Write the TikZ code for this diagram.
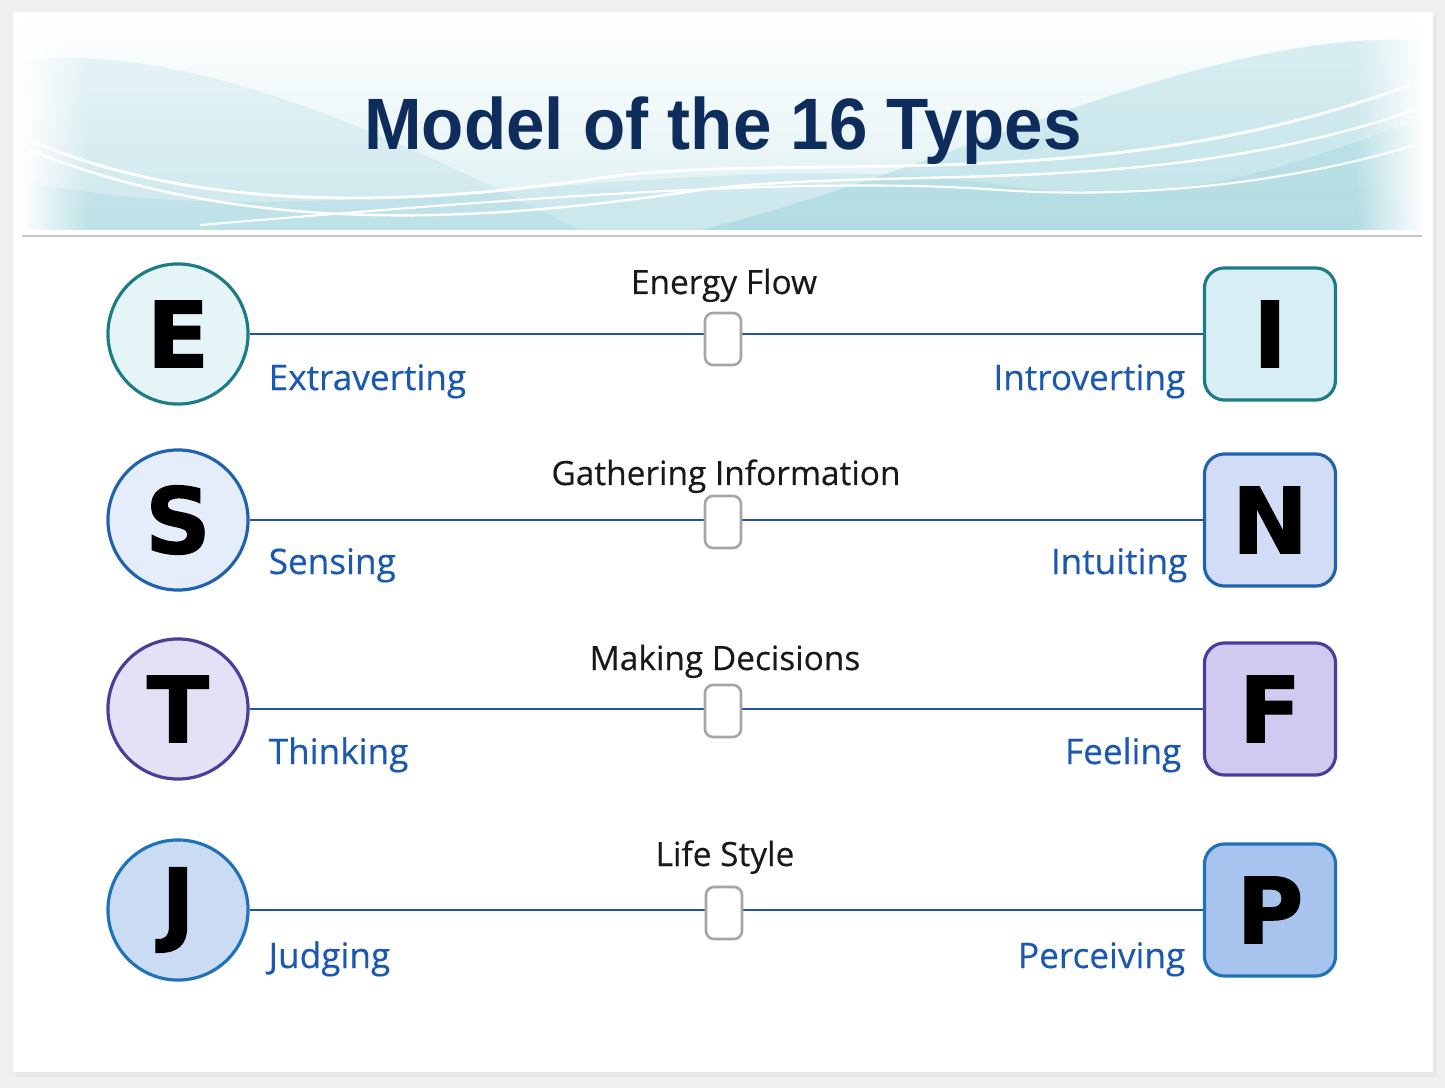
\documentclass[tikz,border=0pt]{standalone}
\usepackage{fontspec}
\setmainfont{Open Sans}
\newfontfamily\labelfont[FakeBold=0.35]{Open Sans}
\newfontfamily\titlefont{Liberation Sans}
\newfontfamily\letterfont[FakeBold=1.2]{DejaVu Sans Bold}
\usetikzlibrary{fadings}

\definecolor{pagebg}{HTML}{EEF0F2}
\definecolor{navy}{HTML}{0E2D5C}
\definecolor{wave}{HTML}{5FB8C6}
\definecolor{axisblue}{HTML}{2352A0}
\definecolor{poleblue}{HTML}{1B58B0}
\definecolor{ecol}{HTML}{1D7B83}
\definecolor{efill}{HTML}{E4F4F7}
\definecolor{ifill}{HTML}{D6EEF4}
\definecolor{scol}{HTML}{1F63AD}
\definecolor{sfill}{HTML}{E5EDFB}
\definecolor{nfill}{HTML}{D3DCF7}
\definecolor{tcol}{HTML}{4A3E9B}
\definecolor{tfill}{HTML}{E4E0F6}
\definecolor{ffill}{HTML}{D0CAF0}
\definecolor{jcol}{HTML}{1F72B8}
\definecolor{jfill}{HTML}{C9DCF4}
\definecolor{pfill}{HTML}{A7C3EE}

\begin{document}
\begin{tikzpicture}[x=0.01cm, y=-0.01cm,
    pole/.style={circle, minimum size=1.4cm, inner sep=0pt, line width=0.9pt,
        font=\letterfont\fontsize{26}{26}\selectfont},
    pbox/.style={rectangle, rounded corners=0.2cm, minimum width=1.31cm,
        minimum height=1.32cm, inner sep=0pt, line width=0.9pt,
        font=\letterfont\fontsize{26}{26}\selectfont},
    axis/.style={axisblue, line width=0.6pt},
    knob/.style={rectangle, rounded corners=0.08cm, draw=black!35, fill=white,
        line width=0.75pt, minimum width=0.36cm, minimum height=0.52cm},
    cat/.style={anchor=base, text=black!90, font=\labelfont\fontsize{9.5}{11}\selectfont},
    leftlbl/.style={anchor=base west, inner sep=0pt, text=poleblue,
        font=\labelfont\fontsize{10}{12}\selectfont},
    rightlbl/.style={anchor=base east, inner sep=0pt, text=poleblue,
        font=\labelfont\fontsize{10}{12}\selectfont}]

    % page and card
    \fill[pagebg] (0,0) rectangle (1445,1088);
    \fill[black!9] (15,16) rectangle (1437,1077);
    \fill[white] (13,12) rectangle (1433,1072);

    % header with waves
    \fill[top color=white, bottom color=wave!22] (22,14) rectangle (1422,230);
    \fill[wave, opacity=0.12] (22,60) .. controls (200,40) and (420,150) .. (580,230) -- (22,230) -- cycle;
    \fill[wave, opacity=0.22] (700,230) .. controls (950,170) and (1200,30) .. (1422,40) -- (1422,230) -- cycle;
    \fill[wave, opacity=0.14] (22,180) .. controls (300,245) and (700,140) .. (1000,185)
        .. controls (1200,215) and (1320,150) .. (1422,120) -- (1422,230) -- (22,230) -- cycle;
    \draw[white, line width=0.8pt] (30,140) .. controls (200,215) and (420,205) .. (600,178)
        .. controls (800,150) and (1100,200) .. (1410,85);
    \draw[white, line width=0.7pt] (30,150) .. controls (250,240) and (500,220) .. (700,190)
        .. controls (900,165) and (1150,200) .. (1415,110);
    \draw[white, line width=0.6pt] (200,225) .. controls (500,200) and (800,175) .. (1000,190)
        .. controls (1150,200) and (1300,180) .. (1415,145);
    \fill[white, path fading=east] (20,14) rectangle (90,232);
    \fill[white, path fading=west] (1355,14) rectangle (1424,232);
    \draw[black!22, line width=0.7pt] (22,236) -- (1422,236);

    \node[anchor=base, text=navy, font=\titlefont\bfseries\fontsize{20.7}{24}\selectfont]
        (title) at (723,150) {\scalebox{0.95}[1]{Model of the 16 Types}};

    % E -- I
    \node[pole, draw=ecol, fill=efill] (E) at (178,334) {E};
    \node[pbox, draw=ecol, fill=ifill] (I) at (1270,334) {I};
    \draw[axis] (E) -- (I);
    \node[knob] (k1) at (723,339) {};
    \node[cat] (c1) at (724,294) {Energy Flow};
    \node[leftlbl] (l1) at (268,390) {Extraverting};
    \node[rightlbl] (r1) at (1186,390) {Introverting};

    % S -- N
    \node[pole, draw=scol, fill=sfill] (S) at (178,520) {S};
    \node[pbox, draw=scol, fill=nfill] (N) at (1270,520) {N};
    \draw[axis] (S) -- (N);
    \node[knob] (k2) at (723,522) {};
    \node[cat] (c2) at (726,485) {Gathering Information};
    \node[leftlbl] (l2) at (268,574) {Sensing};
    \node[rightlbl] (r2) at (1188,574) {Intuiting};

    % T -- F
    \node[pole, draw=tcol, fill=tfill] (T) at (178,709) {T};
    \node[pbox, draw=tcol, fill=ffill] (F) at (1270,709) {F};
    \draw[axis] (T) -- (F);
    \node[knob] (k3) at (723,711) {};
    \node[cat] (c3) at (725,670) {Making Decisions};
    \node[leftlbl] (l3) at (268,764) {Thinking};
    \node[rightlbl] (r3) at (1182,764) {Feeling};

    % J -- P
    \node[pole, draw=jcol, fill=jfill] (J) at (178,910) {J};
    \node[pbox, draw=jcol, fill=pfill] (P) at (1270,910) {P};
    \draw[axis] (J) -- (P);
    \node[knob] (k4) at (724,913) {};
    \node[cat] (c4) at (725,866) {Life Style};
    \node[leftlbl] (l4) at (268,968) {Judging};
    \node[rightlbl] (r4) at (1186,968) {Perceiving};
\end{tikzpicture}
\end{document}
